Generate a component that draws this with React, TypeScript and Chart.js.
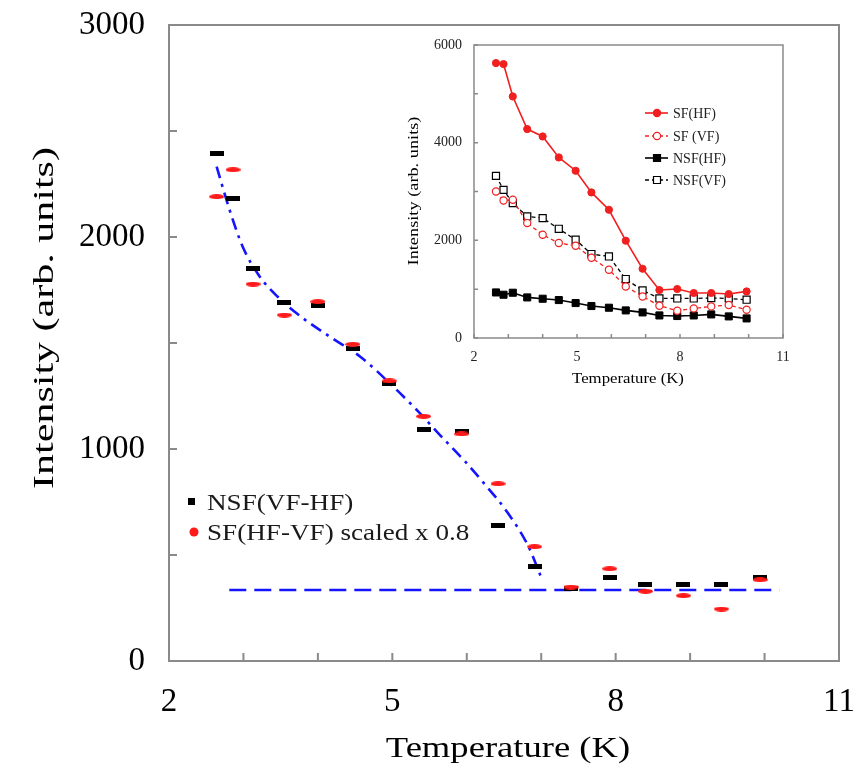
import React, { useEffect, useRef } from 'react';
import { Chart, registerables } from 'chart.js';

Chart.register(...registerables);

// ---------- data ----------
const temperature = [2.64, 2.86, 3.13, 3.55, 4.0, 4.47, 4.96, 5.42, 5.93, 6.42, 6.91, 7.4, 7.92, 8.4, 8.91, 9.42, 9.94];

// main panel
const nsfVfMinusHf = [2392, 2183, 1852, 1692, 1675, 1472, 1310, 1090, 1082, 639, 446, 340, 393, 362, 362, 362, 396];
const sfHfMinusVfScaled = [2190, 2317, 1778, 1632, 1695, 1494, 1321, 1154, 1071, 836, 539, 349, 435, 329, 308, 245, 383];

const guideT = [2.64, 2.81, 2.99, 3.22, 3.46, 3.8, 4.16, 4.57, 4.99, 5.35, 5.64, 5.98, 6.27, 6.54, 6.83, 7.01];
const guideI = [2332, 2132, 1954, 1813, 1718, 1617, 1530, 1435, 1302, 1176, 1066, 940, 822, 704, 539, 385];

const baselineT = [2.81, 10.2];
const baselineI = [335, 335];

// inset panel
const insetSfHf = [5630, 5609, 4946, 4279, 4127, 3697, 3425, 2981, 2626, 1992, 1418, 982, 1003, 921, 921, 900, 954];
const insetSfVf = [3001, 2817, 2830, 2353, 2114, 1944, 1889, 1643, 1398, 1056, 851, 661, 559, 606, 647, 675, 579];
const insetNsfHf = [933, 886, 927, 831, 804, 777, 716, 655, 620, 565, 524, 462, 450, 462, 483, 442, 401];
const insetNsfVf = [3320, 3034, 2762, 2489, 2455, 2236, 2012, 1719, 1670, 1207, 974, 810, 810, 810, 819, 810, 784];

const xTickLabels = [2, 5, 8, 11];
const mainYTickLabels = [0, 1000, 2000, 3000];
const insetYTickLabels = [0, 2000, 4000, 6000];

const mainLegend = ['NSF(VF-HF)', 'SF(HF-VF) scaled x 0.8'];
const insetLegend = ['SF(HF)', 'SF (VF)', 'NSF(HF)', 'NSF(VF)'];

// ---------- helpers ----------
const SERIF = '"Liberation Serif", "Times New Roman", Times, serif';
const RED = '#ff1a1a';
const FRAME = '#8a8a8a';

function pts(xs: number[], ys: number[]) {
  return xs.map((x, i) => ({ x, y: ys[i] }));
}

function markerImage(w: number, h: number, color: string, kind: 'rect' | 'ellipse') {
  const c = document.createElement('canvas');
  c.width = w;
  c.height = h;
  const g = c.getContext('2d')!;
  g.fillStyle = color;
  if (kind === 'rect') {
    g.fillRect(0, 0, w, h);
  } else {
    g.beginPath();
    g.ellipse(w / 2, h / 2, w / 2, h / 2, 0, 0, Math.PI * 2);
    g.fill();
  }
  return c;
}

function stretchedText(
  ctx: CanvasRenderingContext2D,
  text: string,
  x: number,
  y: number,
  font: string,
  stretch: number,
  rotated: boolean,
  align: CanvasTextAlign = 'center',
) {
  ctx.save();
  ctx.translate(x, y);
  if (rotated) ctx.rotate(-Math.PI / 2);
  ctx.scale(stretch, 1);
  ctx.font = font;
  ctx.textAlign = align;
  ctx.textBaseline = 'middle';
  ctx.fillText(text, 0, 0);
  ctx.restore();
}

type Title = { text: string; x: number; y: number; font: string; stretch: number };
type Deco = {
  frameWidth: number;
  tickLen: number;
  xTicks: number[];
  yTicks: number[];
  xTitle: Title;
  yTitle: Title;
  legend: (ctx: CanvasRenderingContext2D) => void;
};

function decoPlugin(d: Deco) {
  return {
    id: 'deco',
    afterDraw(chart: any) {
      const { ctx, chartArea } = chart;
      const { left, right, top, bottom } = chartArea;
      const xs = chart.scales.x;
      const ys = chart.scales.y;
      ctx.save();
      ctx.strokeStyle = FRAME;
      ctx.lineWidth = d.frameWidth;
      ctx.strokeRect(left, top, right - left, bottom - top);
      ctx.beginPath();
      d.xTicks.forEach((v) => {
        const px = xs.getPixelForValue(v);
        ctx.moveTo(px, bottom);
        ctx.lineTo(px, bottom - d.tickLen);
      });
      d.yTicks.forEach((v) => {
        const py = ys.getPixelForValue(v);
        ctx.moveTo(left, py);
        ctx.lineTo(left + d.tickLen, py);
      });
      ctx.stroke();

      ctx.fillStyle = '#000';
      stretchedText(ctx, d.xTitle.text, d.xTitle.x, d.xTitle.y, d.xTitle.font, d.xTitle.stretch, false);
      stretchedText(ctx, d.yTitle.text, d.yTitle.x, d.yTitle.y, d.yTitle.font, d.yTitle.stretch, true);

      d.legend(ctx);
      ctx.restore();
    },
  };
}

function fixBox(size: 'width' | 'height', value: number) {
  return (s: any) => {
    s[size] = value;
    s.paddingLeft = 0;
    s.paddingRight = 0;
    s.paddingTop = 0;
    s.paddingBottom = 0;
  };
}

function range(a: number, b: number, s: number) {
  const out: number[] = [];
  for (let v = a; v <= b + 1e-9; v += s) out.push(v);
  return out;
}

// ---------- main chart ----------
function MainChart() {
  const ref = useRef<HTMLCanvasElement>(null);
  useEffect(() => {
    const dash = markerImage(14, 5, '#000', 'rect');
    const oval = markerImage(15, 5, RED, 'ellipse');
    const chart = new Chart(ref.current!, {
      type: 'scatter',
      data: {
        datasets: [
          {
            label: 'guide',
            data: pts(guideT, guideI),
            showLine: true,
            pointRadius: 0,
            borderColor: '#1414ff',
            borderWidth: 2.6,
            borderDash: [12, 6, 3, 6],
            cubicInterpolationMode: 'monotone',
            order: 3,
          },
          {
            label: 'baseline',
            data: pts(baselineT, baselineI),
            showLine: true,
            pointRadius: 0,
            borderColor: '#1414ff',
            borderWidth: 2.4,
            borderDash: [17, 8],
            order: 3,
          },
          {
            label: mainLegend[0],
            data: pts(temperature, nsfVfMinusHf),
            pointStyle: dash as any,
            pointRadius: 5,
            order: 2,
          },
          {
            label: mainLegend[1],
            data: pts(temperature, sfHfMinusVfScaled),
            pointStyle: oval as any,
            pointRadius: 5,
            order: 1,
          },
        ],
      },
      options: {
        animation: false,
        responsive: false,
        layout: { padding: { left: 0, right: 15, top: 25, bottom: 0 } },
        plugins: { legend: { display: false }, tooltip: { enabled: false } },
        scales: {
          x: {
            type: 'linear',
            min: 2,
            max: 11,
            afterFit: fixBox('height', 110),
            grid: { display: false, drawTicks: false },
            border: { display: false },
            ticks: {
              stepSize: 1,
              autoSkip: false,
              maxRotation: 0,
              padding: 22,
              color: '#000',
              font: { family: SERIF, size: 33 },
              callback: (v: any) => (xTickLabels.includes(Number(v)) ? String(v) : ''),
            },
          },
          y: {
            type: 'linear',
            min: 0,
            max: 3000,
            afterFit: fixBox('width', 169),
            grid: { display: false, drawTicks: false },
            border: { display: false },
            ticks: {
              stepSize: 500,
              autoSkip: false,
              padding: 24,
              color: '#000',
              font: { family: SERIF, size: 33 },
              callback: (v: any) => (mainYTickLabels.includes(Number(v)) ? String(v) : ''),
            },
          },
        },
      },
      plugins: [
        decoPlugin({
          frameWidth: 2,
          tickLen: 8,
          xTicks: range(2, 11, 1),
          yTicks: range(0, 3000, 500),
          xTitle: { text: 'Temperature (K)', x: 508, y: 749, font: `30px ${SERIF}`, stretch: 1.22 },
          yTitle: { text: 'Intensity (arb. units)', x: 45, y: 318, font: `30px ${SERIF}`, stretch: 1.4 },
          legend: (ctx) => {
            ctx.fillStyle = '#000';
            ctx.fillRect(188, 498, 7, 7);
            ctx.fillStyle = RED;
            ctx.beginPath();
            ctx.arc(194, 532, 4.5, 0, Math.PI * 2);
            ctx.fill();
            ctx.fillStyle = '#1a1a1a';
            stretchedText(ctx, mainLegend[0], 207, 504, `23px ${SERIF}`, 1.18, false, 'left');
            stretchedText(ctx, mainLegend[1], 207, 534, `23px ${SERIF}`, 1.18, false, 'left');
          },
        }) as any,
      ],
    } as any);
    return () => chart.destroy();
  }, []);
  return <canvas ref={ref} width={854} height={771} style={{ position: 'absolute', left: 0, top: 0 }} />;
}

// ---------- inset chart ----------
function InsetChart() {
  const ref = useRef<HTMLCanvasElement>(null);
  useEffect(() => {
    const INRED = '#f02020';
    const chart = new Chart(ref.current!, {
      type: 'scatter',
      data: {
        datasets: [
          {
            label: insetLegend[0],
            data: pts(temperature, insetSfHf),
            showLine: true,
            borderColor: INRED,
            borderWidth: 1.6,
            pointStyle: 'circle',
            pointRadius: 3.6,
            pointBackgroundColor: INRED,
            pointBorderColor: INRED,
            pointBorderWidth: 1,
          },
          {
            label: insetLegend[1],
            data: pts(temperature, insetSfVf),
            showLine: true,
            borderColor: INRED,
            borderWidth: 1.3,
            borderDash: [4, 3],
            pointStyle: 'circle',
            pointRadius: 3.6,
            pointBackgroundColor: '#fff',
            pointBorderColor: INRED,
            pointBorderWidth: 1.2,
          },
          {
            label: insetLegend[2],
            data: pts(temperature, insetNsfHf),
            showLine: true,
            borderColor: '#000',
            borderWidth: 1.6,
            pointStyle: 'rect',
            pointRadius: 5,
            pointBackgroundColor: '#000',
            pointBorderColor: '#000',
            pointBorderWidth: 1,
          },
          {
            label: insetLegend[3],
            data: pts(temperature, insetNsfVf),
            showLine: true,
            borderColor: '#000',
            borderWidth: 1.3,
            borderDash: [4, 3],
            pointStyle: 'rect',
            pointRadius: 5,
            pointBackgroundColor: '#fff',
            pointBorderColor: '#000',
            pointBorderWidth: 1.2,
          },
        ],
      },
      options: {
        animation: false,
        responsive: false,
        layout: { padding: { left: 0, right: 17, top: 15, bottom: 0 } },
        plugins: { legend: { display: false }, tooltip: { enabled: false } },
        scales: {
          x: {
            type: 'linear',
            min: 2,
            max: 11,
            afterFit: fixBox('height', 52),
            grid: { display: false, drawTicks: false },
            border: { display: false },
            ticks: {
              stepSize: 1,
              autoSkip: false,
              maxRotation: 0,
              padding: 11,
              color: '#222',
              font: { family: SERIF, size: 14 },
              callback: (v: any) => (xTickLabels.includes(Number(v)) ? String(v) : ''),
            },
          },
          y: {
            type: 'linear',
            min: 0,
            max: 6000,
            afterFit: fixBox('width', 74),
            grid: { display: false, drawTicks: false },
            border: { display: false },
            ticks: {
              stepSize: 1000,
              autoSkip: false,
              padding: 12,
              color: '#222',
              font: { family: SERIF, size: 14 },
              callback: (v: any) => (insetYTickLabels.includes(Number(v)) ? String(v) : ''),
            },
          },
        },
      },
      plugins: [
        decoPlugin({
          frameWidth: 1.5,
          tickLen: 4,
          xTicks: range(2, 11, 1),
          yTicks: range(0, 6000, 1000),
          xTitle: { text: 'Temperature (K)', x: 228, y: 349, font: `15.5px ${SERIF}`, stretch: 1.08 },
          yTitle: { text: 'Intensity (arb. units)', x: 14, y: 161, font: `15px ${SERIF}`, stretch: 1.22 },
          legend: (ctx) => {
            const rows = [83, 106, 128, 150];
            const cols = [INRED, INRED, '#000', '#000'];
            const dashed = [false, true, false, true];
            const shape = ['c', 'c', 's', 's'];
            rows.forEach((y, i) => {
              ctx.strokeStyle = cols[i];
              ctx.lineWidth = dashed[i] ? 1.3 : 1.6;
              ctx.setLineDash(dashed[i] ? [4, 3] : []);
              ctx.beginPath();
              ctx.moveTo(245, y);
              ctx.lineTo(268, y);
              ctx.stroke();
              ctx.setLineDash([]);
              ctx.fillStyle = dashed[i] ? '#fff' : cols[i];
              ctx.lineWidth = 1.2;
              ctx.beginPath();
              if (shape[i] === 'c') ctx.arc(257, y, 3.6, 0, Math.PI * 2);
              else ctx.rect(253.5, y - 3.5, 7, 7);
              ctx.fill();
              ctx.stroke();
              ctx.fillStyle = '#222';
              stretchedText(ctx, insetLegend[i], 273, y + 1, `14px ${SERIF}`, 1, false, 'left');
            });
          },
        }) as any,
      ],
    } as any);
    return () => chart.destroy();
  }, []);
  return <canvas ref={ref} width={400} height={360} style={{ position: 'absolute', left: 400, top: 30 }} />;
}

export default function App() {
  return (
    <div style={{ position: 'absolute', left: 0, top: 0, width: 854, height: 771, background: '#fff' }}>
      <MainChart />
      <InsetChart />
    </div>
  );
}
